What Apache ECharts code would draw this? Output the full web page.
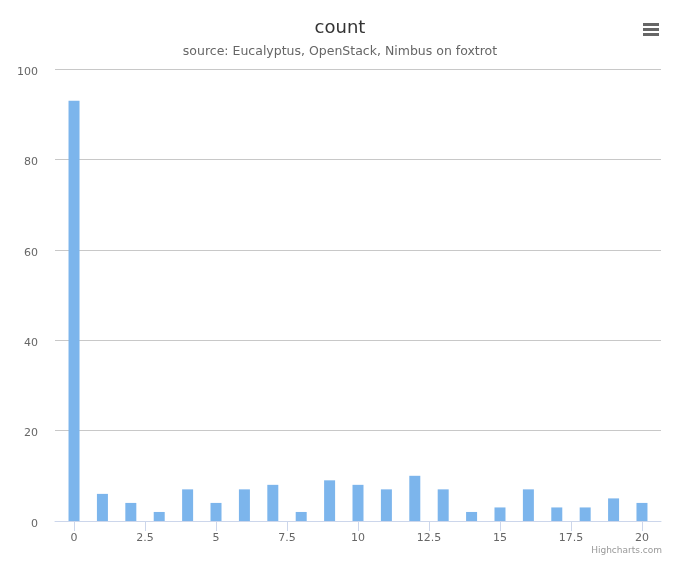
<!DOCTYPE html>
<html lang="en">
<head>
    <meta charset="UTF-8">
    <title>count</title>
    <style>
        html, body { margin: 0; padding: 0; background: #fff; }
    </style>
</head>
<body>
    <div id="main" style="width:680px;height:566px;"></div>
    <script src="https://cdn.jsdelivr.net/npm/echarts@6/dist/echarts.min.js"></script>
    <script>
        var xValues = [0, 1, 2, 3, 4, 5, 6, 7, 8, 9, 10, 11, 12, 13, 14, 15, 16, 17, 18, 19, 20];
        var counts = [93, 6, 4, 2, 7, 4, 7, 8, 2, 9, 8, 7, 10, 7, 2, 3, 7, 3, 3, 5, 4];
        var xTicks = [0, 2.5, 5, 7.5, 10, 12.5, 15, 17.5, 20];

        var font = 'DejaVu Sans, Lucida Grande, sans-serif';
        var myChart = echarts.init(document.getElementById('main'));

        var barData = [];
        for (var i = 0; i < xValues.length; i++) {
            barData.push([xValues[i], counts[i]]);
        }

        var option = {
            backgroundColor: '#fff',
            animation: false,
            title: {
                text: 'count',
                subtext: 'source: Eucalyptus, OpenStack, Nimbus on foxtrot',
                left: 'center',
                top: 14,
                itemGap: 8,
                textStyle: { fontFamily: font, fontSize: 18, fontWeight: 'normal', color: '#333' },
                subtextStyle: { fontFamily: font, fontSize: 12.5, color: '#666' }
            },
            grid: { left: 55, right: 19, top: 69, bottom: 45 },
            xAxis: {
                type: 'value',
                min: -0.67,
                max: 20.67,
                splitLine: { show: false },
                axisLine: { lineStyle: { color: '#ccd6eb' } },
                axisTick: {
                    show: true,
                    length: 10,
                    customValues: xTicks,
                    lineStyle: { color: '#ccd6eb' }
                },
                axisLabel: {
                    customValues: xTicks,
                    margin: 12,
                    fontFamily: font,
                    fontSize: 11,
                    color: '#666'
                }
            },
            yAxis: {
                type: 'value',
                min: 0,
                max: 100,
                interval: 20,
                axisLine: { show: false },
                axisTick: { show: false },
                axisLabel: {
                    margin: 17,
                    verticalAlign: 'top',
                    lineHeight: 6,
                    fontFamily: font,
                    fontSize: 11,
                    color: '#666'
                },
                splitLine: { lineStyle: { color: '#c8c8c8' } }
            },
            series: [{
                type: 'bar',
                barWidth: 11,
                itemStyle: { color: '#7cb5ec' },
                data: barData
            }],
            graphic: [
                { type: 'rect', shape: { x: 643, y: 23, width: 16, height: 3 }, style: { fill: '#666' } },
                { type: 'rect', shape: { x: 643, y: 28, width: 16, height: 3 }, style: { fill: '#666' } },
                { type: 'rect', shape: { x: 643, y: 33, width: 16, height: 3 }, style: { fill: '#666' } },
                {
                    type: 'text', right: 18, top: 546,
                    style: { text: 'Highcharts.com', font: '9px ' + font, fill: '#999' }
                }
            ]
        };
        myChart.setOption(option);
    </script>
</body>
</html>
